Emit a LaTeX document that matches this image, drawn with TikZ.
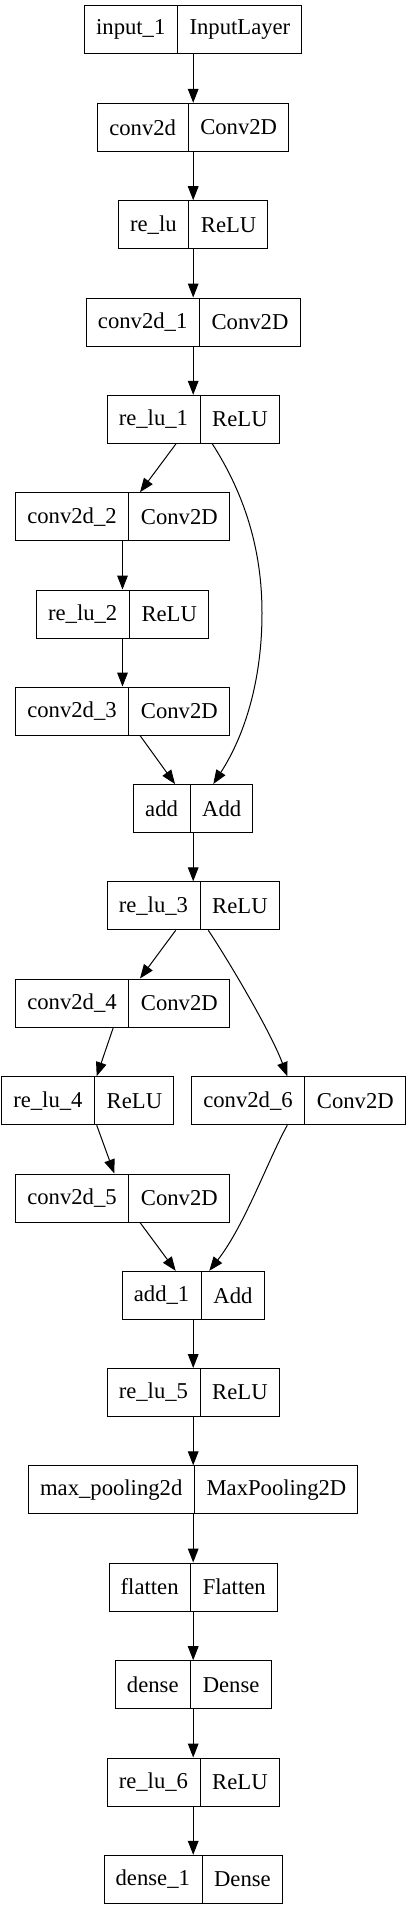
\documentclass[tikz,border=0pt]{standalone}
\usepackage{fontspec}
\setmainfont{Liberation Serif}
\usetikzlibrary{shapes.multipart,arrows.meta,calc}

\begin{document}
\begin{tikzpicture}[x=0.75pt,y=-0.75pt,>={Triangle[length=10.5pt,width=8pt]},line width=0.75pt]
                \tikzstyle{layer}=[rectangle split,rectangle split horizontal,rectangle split parts=2,draw=black,fill=white,minimum height=36pt,inner xsep=8.7pt,inner ysep=0pt,font=\fontsize{17}{20}\selectfont]
                \useasboundingbox (0,0) rectangle (408,1909);
                \foreach \id/\name/\kind/\x/\y in {in/input\_1/InputLayer/193.2/29.7, c0/conv2d/Conv2D/193.2/127.3, r0/re\_lu/ReLU/193.2/224.7, c1/conv2d\_1/Conv2D/193.2/322, r1/re\_lu\_1/ReLU/193.2/419.3, c2/conv2d\_2/Conv2D/122.5/516.7, r2/re\_lu\_2/ReLU/122.5/614, c3/conv2d\_3/Conv2D/122.5/711, a0/add/Add/193.2/808.5, r3/re\_lu\_3/ReLU/193.2/905.8, c4/conv2d\_4/Conv2D/122.5/1003, r4/re\_lu\_4/ReLU/87.7/1100.7, c6/conv2d\_6/Conv2D/298.5/1100.7, c5/conv2d\_5/Conv2D/122.5/1198, a1/add\_1/Add/193.2/1295.3, r5/re\_lu\_5/ReLU/193.2/1392.5, mp/max\_pooling2d/MaxPooling2D/193.2/1489.8, fl/flatten/Flatten/193.2/1587, d0/dense/Dense/193.2/1684.7, r6/re\_lu\_6/ReLU/193.2/1782, d1/dense\_1/Dense/193.2/1879.3}
                        \node[layer] (\id) at (\x,\y) {\name \nodepart{two} \kind};

                    \foreach \from/\to in {in/c0, c0/r0, r0/c1, c1/r1, c2/r2, r2/c3, a0/r3, a1/r5, r5/mp, mp/fl, fl/d0, d0/r6, r6/d1}
                        \draw[->] (\from) -- (\to);

                    \foreach \from/\dx/\to/\ex in {r1/-17.2/c2/17.5, c3/17.5/a0/-18.2, r3/-17.5/c4/17.5, c4/-9.2/r4/9, r4/9/c5/-8.2, c5/17.5/a1/-17.5}
                        \draw[->] ($(\from.south)+(\dx,0)$) -- ($(\to.north)+(\ex,0)$);

                    \draw[->] ($(r1.south)+(19.1,0)$) .. controls (245,495) and (262,550) .. (262,613) .. controls (262,680) and (245,735) .. ($(a0.north)+(20.1,0)$);
                    \draw[->] ($(r3.south)+(15.1,0)$) .. controls (225,955) and (270,1030) .. ($(c6.north)+(-11.2,0)$);
                    \draw[->] ($(c6.south)+(-11.2,0)$) .. controls (268,1160) and (245,1225) .. ($(a1.north)+(16.1,0)$);
            \end{tikzpicture}
\end{document}
